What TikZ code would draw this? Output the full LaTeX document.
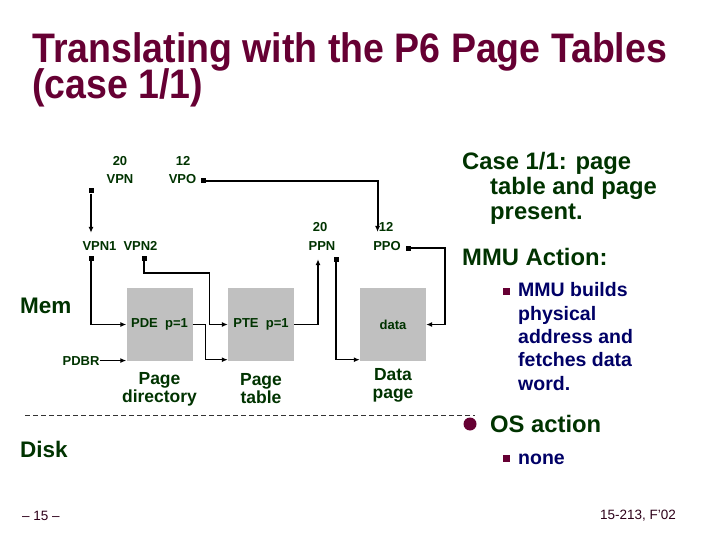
\documentclass[tikz,border=0pt]{standalone}
\usepackage{fontspec}
\setmainfont{Liberation Sans}
\usetikzlibrary{arrows.meta,positioning,calc}
\definecolor{cmuwine}{RGB}{102,0,51}
\definecolor{cmugreen}{RGB}{0,51,0}
\definecolor{cmunavy}{RGB}{0,0,102}
\definecolor{boxgrey}{RGB}{192,192,192}
\definecolor{footdark}{RGB}{45,0,25}
\newcommand{\tightlines}{\setlength{\lineskiplimit}{-50pt}}

\begin{document}
\begin{tikzpicture}[x=1pt, y=-1pt,
    title/.style={font={\fontsize{37.5}{32.3}\selectfont\bfseries\tightlines}, text=cmuwine,
                  anchor=base west, inner sep=0pt, align=left},
    lbl/.style={font=\fontsize{13}{15}\selectfont\bfseries, text=cmugreen, inner sep=0pt, anchor=base},
    pgbox/.style={fill=boxgrey, minimum width=66pt, minimum height=73pt, inner sep=0pt,
                  font=\fontsize{13}{15}\selectfont\bfseries, text=cmugreen},
    pgname/.style={font=\fontsize{17.5}{18}\selectfont\bfseries, text=cmugreen, align=center, inner sep=0pt},
    store/.style={font=\fontsize{22.5}{25}\selectfont\bfseries, text=cmugreen, anchor=base west, inner sep=0pt},
    mk/.style={fill=black, minimum size=5pt, inner sep=0pt},
    link/.style={line width=1.2pt, -{Latex[length=6pt,width=5pt]}},
    fat/.style={link, line width=2pt},
    head/.style={font=\fontsize{23.8}{25.5}\selectfont\bfseries, text=cmugreen, anchor=base west, inner sep=0pt, align=left},
    sub/.style={font=\fontsize{19.5}{23.3}\selectfont\bfseries, text=cmunavy, anchor=base west, inner sep=0pt, align=left},
    sqbul/.style={fill=cmuwine, minimum size=7pt, inner sep=0pt},
    foot/.style={font=\fontsize{13.5}{15}\selectfont, text=footdark, anchor=base west, inner sep=0pt}
]
    \useasboundingbox (0,0) rectangle (720,540);

    % title (stretched a little in height; node sits on its last baseline)
    \begin{scope}[yscale=1.1, transform shape]
        \node[title] (title) at (32,89.5) {Translating with the P6 Page Tables\\(case 1/1)};
    \end{scope}

    % virtual address
    \node[lbl] (vpnbits) at (120,166) {20};
    \node[lbl] (vpn)     at (120,184) {VPN};
    \node[lbl] (vpobits) at (183,166) {12};
    \node[lbl] (vpo)     at (182.5,184) {VPO};
    \node[mk]  (vpnmk)   at (91,191) {};
    \node[mk]  (vpomk)   at (203,181) {};

    \node[lbl] (vpn1) at (99.5,251) {VPN1};
    \node[lbl] (vpn2) at (140.5,251) {VPN2};
    \node[mk]  (vpn1mk) at (91,258) {};
    \node[mk]  (vpn2mk) at (144,258) {};

    % physical address
    \node[lbl] (ppnbits) at (320,232) {20};
    \node[lbl] (ppn)     at (322,251) {PPN};
    \node[lbl] (ppobits) at (386,232) {12};
    \node[lbl] (ppo)     at (387,251) {PPO};
    \node[mk]  (ppnmk)   at (336,259) {};
    \node[mk]  (ppomk)   at (408,248) {};

    % memory pages
    \node[pgbox] (pde)  at (159.5,324.5) {PDE~~p=1};
    \node[pgbox] (pte)  at (261,324.5)   {PTE~~p=1};
    \node[pgbox] (data) at (393,324.5)   {data};
    \node[pgname, below=11pt of pde]  (pdename)  {Page\\directory};
    \node[pgname, below=12pt of pte]  (ptename)  {Page\\table};
    \node[pgname, below=7pt of data]  (dataname) {Data\\page};
    \node[lbl] (pdbr) at (81,365) {PDBR};

    % translation paths
    \draw[fat]  (vpnmk) -- ([yshift=9pt]vpnmk |- vpn1.north);
    \draw[fat]  (vpomk) -| ([xshift=-1pt]ppobits.base west);
    \draw[link] (vpn1mk) |- (pde.west);
    \draw[link] (vpn2mk) -- ++(0,15) -| ([xshift=-18pt]pte.west) -- (pte.west);
    \draw[link] (pdbr.east) -- (pdbr.east -| pde.west);
    \draw[link] (pde.east) -- ++(13,0) |- ([yshift=1.5pt]pte.south west);
    \draw[link] (pte.east) -| ([xshift=-4pt,yshift=-8pt]ppn.south);
    \draw[link] (ppnmk) |- ([yshift=1.5pt]data.south west);
    \draw[link] (ppomk) -- ++(37,0) |- (data.east);

    % mem / disk split
    \node[store] (mem)  at (20,313) {Mem};
    \node[store] (disk) at (20,457) {Disk};
    \draw[line width=0.9pt, dash pattern=on 5pt off 3pt, black!80] (25,415) -- (475,415);

    % right column (multi-line nodes sit on their last baseline)
    \node[head] (case) at (462,220) {Case 1/1: page\\\hspace*{28pt}table and page\\\hspace*{28pt}present.};
    \node[head] (mmu)  at (462,265) {MMU Action:};
    \node[sqbul] (mmubul) at (506,291) {};
    \node[sub]  (mmutxt) at (518,390) {MMU builds\\physical\\address and\\fetches data\\word.};
    \fill[cmuwine] (470,424) circle (6.5pt);
    \node[head] (os)   at (490,432) {OS action};
    \node[sqbul] (osbul) at (506,458) {};
    \node[sub]  (ostxt) at (518,464) {none};

    % footer
    \node[foot] (pagenum) at (22,520) {-- 15 --};
    \node[foot] (course)  at (600,519) {15-213, F'02};
\end{tikzpicture}
\end{document}
